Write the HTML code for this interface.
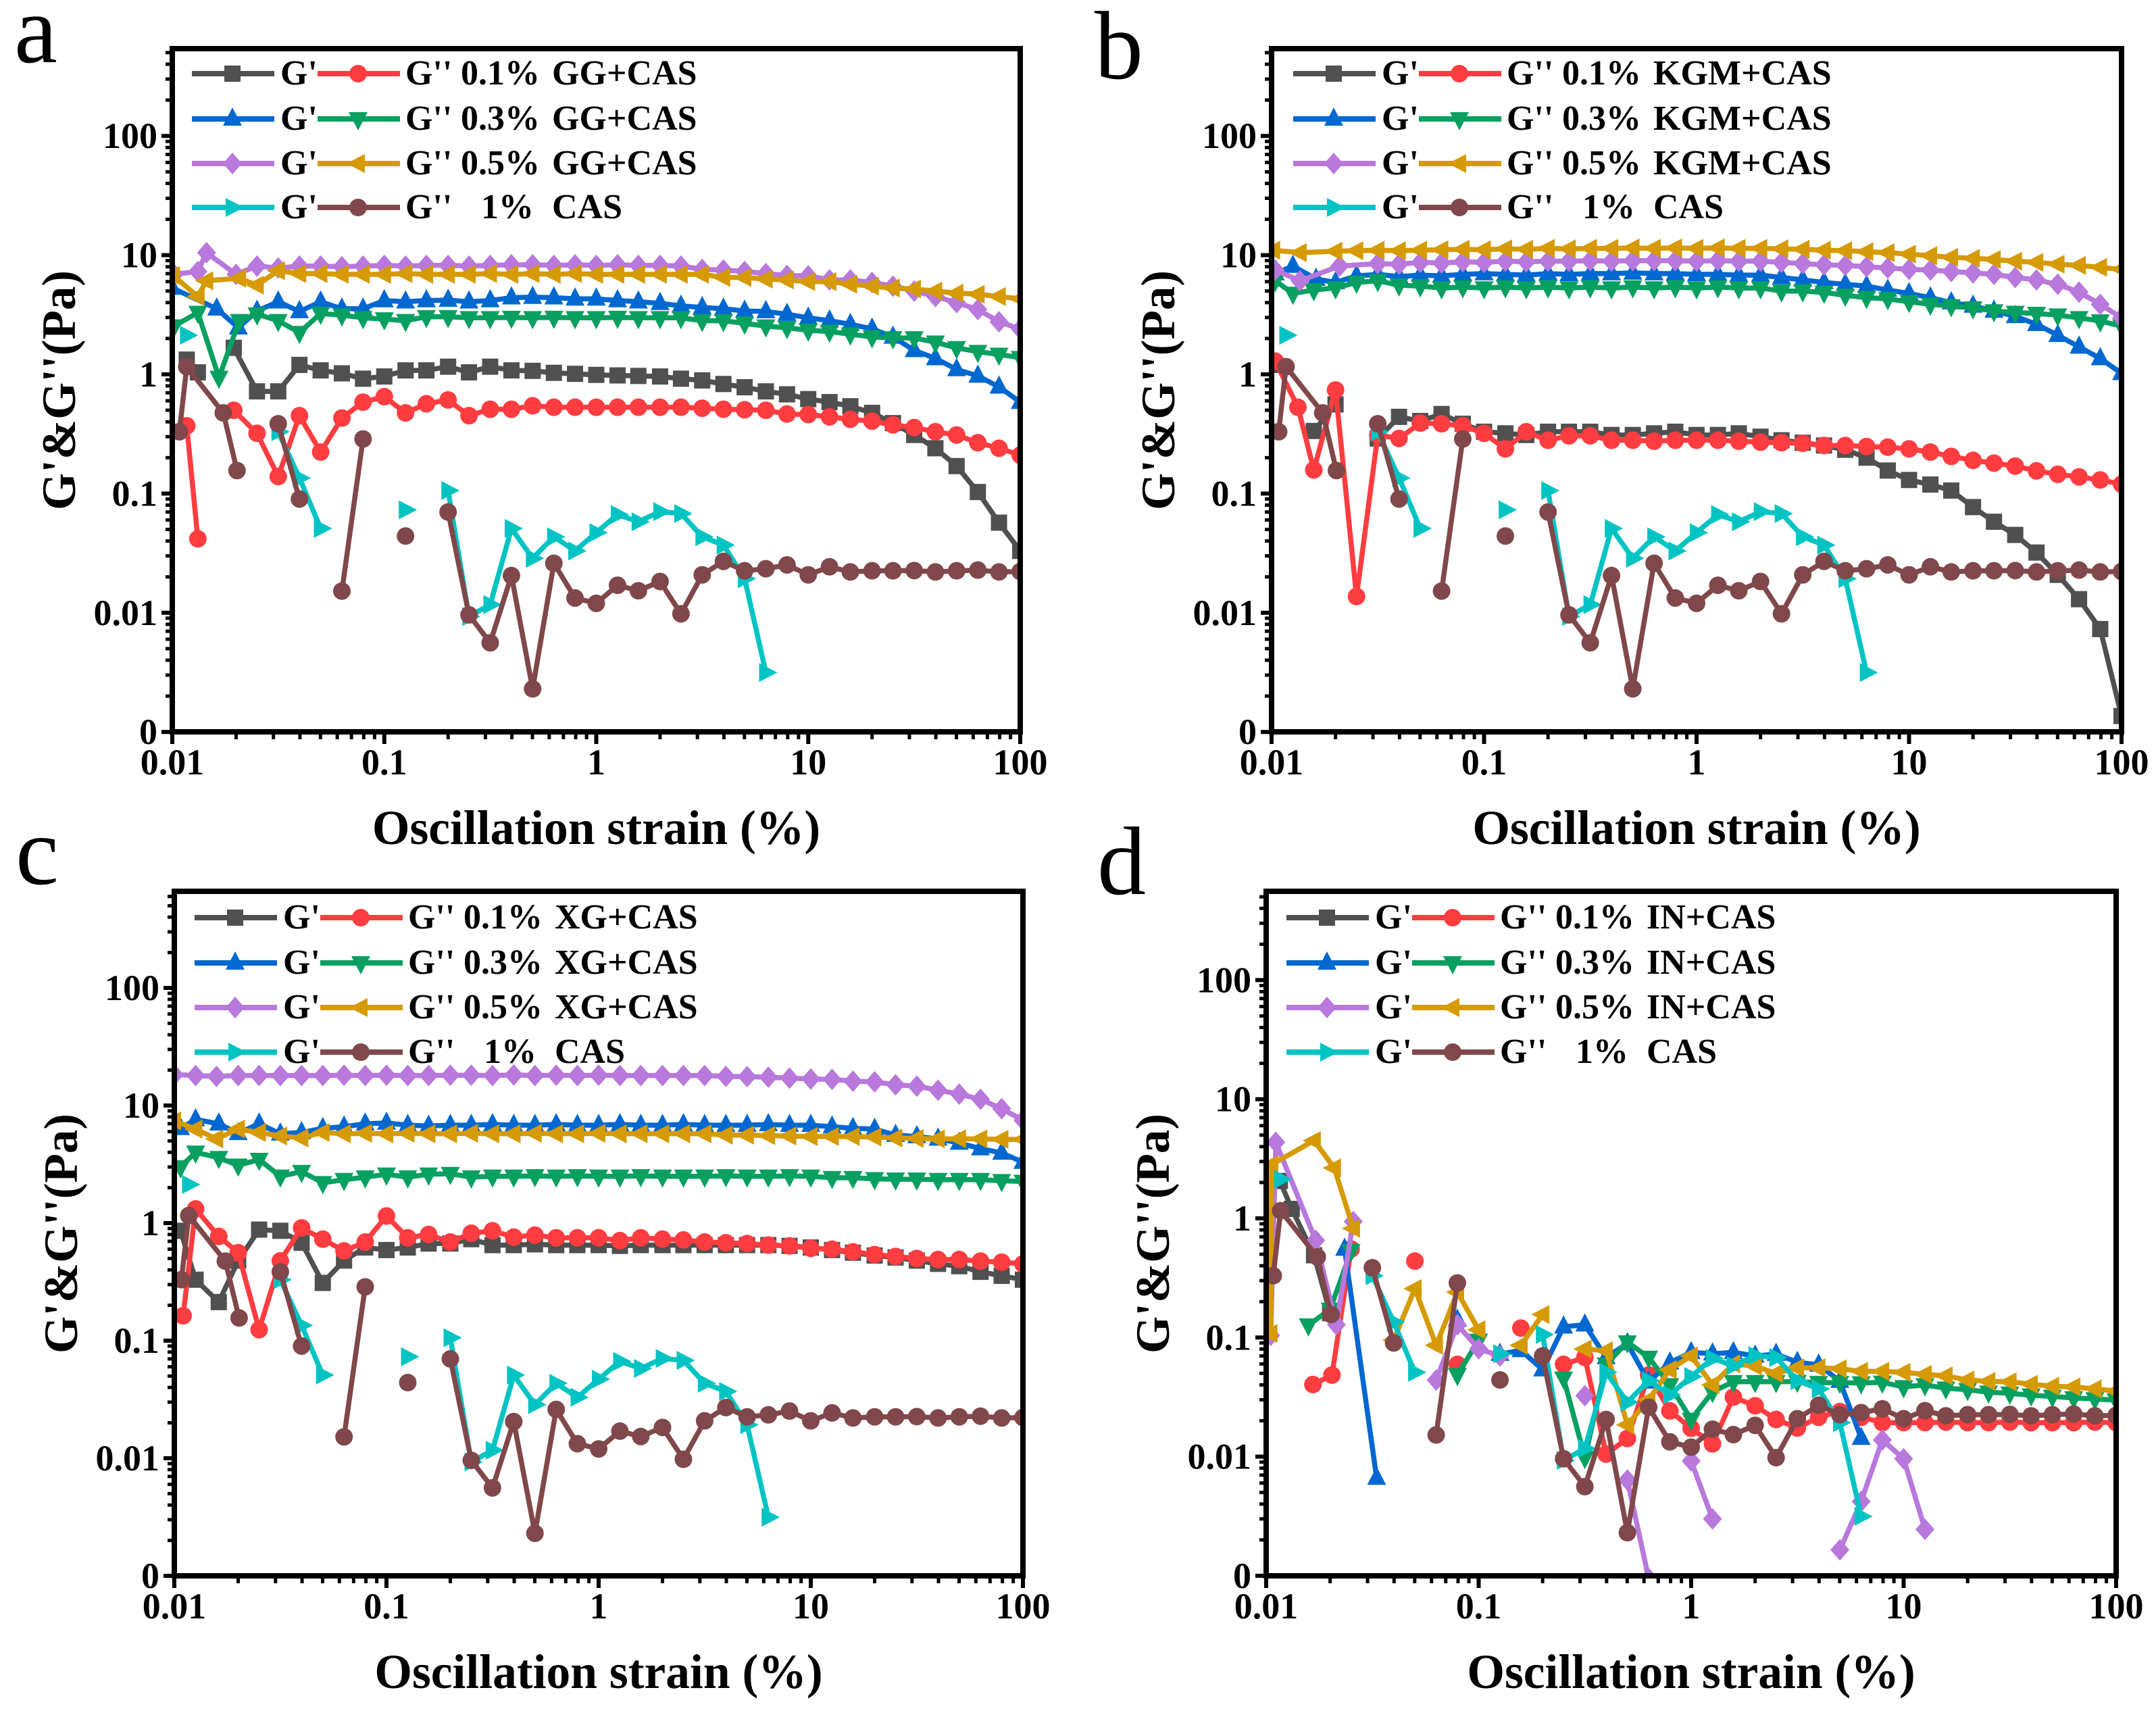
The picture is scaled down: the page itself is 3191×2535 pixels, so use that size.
<!DOCTYPE html>
<html>
<head>
<meta charset="utf-8">
<title>Oscillation strain sweeps</title>
<style>
html,body{margin:0;padding:0;background:#fff}
svg{display:block}
text{font-family:"Liberation Serif",serif}
</style>
</head>
<body>
<svg id="figure" xmlns="http://www.w3.org/2000/svg" width="3191" height="2535" viewBox="0 0 3191 2535"></svg>
<script>
const _ = null;
const strainGrid = [0.01,0.0126,0.0158,0.02,0.0251,0.0316,0.0398,0.0501,0.0631,0.0794,0.1,0.126,0.158,0.2,0.251,0.316,0.398,0.501,0.631,0.794,1,1.26,1.58,2,2.51,3.16,3.98,5.01,6.31,7.94,10,12.6,15.8,20,25.1,31.6,39.8,50.1,63.1,79.4,100];
const xTickValues = [0.01,0.1,1,10,100];
const xTickLabels = ["0.01","0.1","1","10","100"];
const yTickValues = [100,10,1,0.1,0.01,0.001];
const yTickLabels = ["100","10","1","0.1","0.01","0"];

/* 1% CAS is the same in every panel */
const casGpLead = [[0.0117,2.13],null];
const casGp = [_,_,_,_,_,.33,.135,.051,_,_,_,.073,_,.106,.0093,.0117,.051,.0286,.0434,.033,.047,.0667,.058,.0705,.068,.0434,.037,.0193,.00315];
const casGppLead = [[0.0108,.33],[0.0117,1.16],[0.0174,.475],[0.0202,.156],null];
const casGpp = [_,_,_,_,_,.385,.09,_,.0152,.287,_,.044,_,.07,.0096,.0056,.0205,.0023,.026,.0133,.012,.017,.0153,.0183,.0098,.0208,.027,.0225,.0234,.0252,.0208,.0243,.022,.0225,.0225,.0226,.022,.0225,.0228,.022,.0222];

/* Panel a: GG */
const aGp1Lead = [[0.0117,1.33],[0.0132,1.04],null,[0.0195,1.67]];
const aGp1 = [_,_,_,_,.72,.72,1.2,1.08,1.02,.92,.96,1.08,1.08,1.16,1.04,1.16,1.08,1.07,1.03,1.01,.99,.98,.97,.96,.92,.89,.83,.78,.72,.68,.62,.585,.54,.475,.39,.31,.24,.17,.103,.057,.033];
const aGpp1Lead = [[0.0117,.37],[0.0132,.0417],null,[0.0195,.5]];
const aGpp1 = [_,_,_,_,.32,.139,.45,.223,.43,.585,.65,.475,.567,.61,.45,.51,.51,.545,.53,.53,.53,.53,.53,.53,.53,.52,.51,.505,.5,.465,.46,.44,.42,.405,.377,.358,.33,.31,.267,.24,.21];
const aGp3Lead = [[0.01,5.3],[0.0162,3.55],[0.0205,2.46]];
const aGp3 = [_,_,_,_,3.4,4.07,3.37,4.07,3.55,3.55,4.16,4.07,4.16,4.2,4.07,4.16,4.4,4.44,4.4,4.3,4.3,4.16,4.07,3.95,3.75,3.64,3.55,3.4,3.37,3.2,2.98,2.82,2.63,2.41,2.06,1.59,1.36,1.1,.97,.785,.585];
const aGpp3Lead = [[0.0102,2.54],[0.0132,3.3],[0.0166,.94],[0.0207,2.82]];
const aGpp3 = [_,_,_,_,3.2,2.82,2.24,3.24,3.14,2.98,2.91,2.82,3.04,3.04,2.98,2.98,3,2.98,3,2.98,2.98,3,2.98,2.98,2.98,2.82,2.82,2.68,2.54,2.46,2.34,2.29,2.17,2.06,2.02,2.02,1.86,1.67,1.55,1.47,1.38];
const aGp5Lead = [[0.0102,6.9],[0.0132,7.3],[0.0145,10.5],[0.02,6.9]];
const aGp5 = [_,_,_,_,8.1,7.8,8.1,8.1,8,8.1,8.2,8.1,8.2,8.2,8.1,8.2,8.3,8.3,8.2,8.3,8.2,8.3,8.2,8.2,8.1,7.6,7.5,7.3,7,6.75,6.7,6.2,6.2,5.9,5.5,5,4.5,4,3.5,2.76,2.4];
const aGpp5Lead = [[0.0101,6.75],[0.0132,4.5],[0.0145,6.1],[0.0207,6.4]];
const aGpp5 = [_,_,_,_,5.6,7.4,7,7,6.9,6.9,6.9,7,6.9,6.9,6.9,7,6.9,7,6.9,7,6.9,6.9,6.9,6.9,6.9,6.9,6.5,6.5,6.3,6.2,6,6,5.7,5.5,5.3,5.2,5,4.8,4.7,4.5,4.3];

/* Panel b: KGM */
const bGp1Lead = [[0.0104,1.2],null,[0.0158,.335]];
const bGp1 = [_,_,_,.56,_,.29,.44,.406,.465,.385,.33,.32,.31,.33,.33,.33,.31,.31,.32,.33,.31,.31,.32,.3,.28,.267,.253,.233,.2,.156,.13,.119,.106,.077,.058,.045,.032,.0208,.013,.0073,.00136];
const bGpp1Lead = [[0.0104,1.29],[0.0133,.53],[0.0158,.158],[0.02,.74]];
const bGpp1 = [_,_,_,_,.0137,.31,.29,.39,.385,.37,.32,.237,.33,.28,.305,.305,.28,.28,.275,.28,.28,.28,.275,.27,.267,.264,.253,.253,.248,.245,.237,.223,.205,.19,.18,.17,.155,.145,.138,.13,.12];
const bGp3Lead = [[0.0104,7],[0.0126,8.1],[0.0162,6.3],[0.02,5.9]];
const bGp3 = [_,_,_,_,6.7,6.9,6.6,6.8,6.7,6.9,7,6.9,6.8,7,6.9,7,7,7.1,7,7,6.9,6.9,6.8,6.8,6.5,6.2,5.9,5.7,5.5,5.1,4.77,4.4,4,3.75,3.4,3.07,2.63,2.13,1.7,1.36,1.02];
const bGpp3Lead = [[0.0104,6.1],[0.0126,4.77],[0.0158,5.1],[0.02,5.3]];
const bGpp3 = [_,_,_,_,5.9,6.1,5.6,5.5,5.3,5.4,5.3,5.4,5.3,5.4,5.3,5.4,5.3,5.4,5.3,5.4,5.3,5.4,5.3,5.3,5,5,4.87,4.6,4.4,4.3,4.07,3.87,3.75,3.6,3.4,3.3,3.24,3.14,2.98,2.8,2.54];
const bGp5Lead = [[0.0104,7.5],[0.0136,6.1],[0.0209,8.1]];
const bGp5 = [_,_,_,_,_,8.5,8.4,8.7,8.6,8.8,8.7,8.9,8.8,8.9,8.9,9,8.9,9,9,9,8.9,9,8.9,8.9,8.7,8.5,8.3,8.2,8,7.8,7.6,7.5,7.3,7.1,6.9,6.5,6.2,5.7,4.9,3.87,2.98];
const bGpp5Lead = [[0.0102,11],[0.0136,10.5],[0.02,10.8]];
const bGpp5 = [_,_,_,_,10.9,11,10.9,11,11.1,11.2,11.1,11.3,11.2,11.4,11.3,11.4,11.4,11.5,11.4,11.5,11.4,11.5,11.4,11.4,11.3,11.2,11,10.9,10.7,10.5,10.2,9.9,9.6,9.4,9.2,8.9,8.7,8.4,8.2,7.9,7.6];

/* Panel c: XG */
const cGp1Lead = [[0.0107,.86],[0.0126,.33],[0.0162,.213],[0.02,.48]];
const cGp1 = [_,_,_,_,.88,.86,.68,.31,.48,.62,.59,.62,.67,.67,.73,.65,.65,.66,.65,.65,.65,.64,.65,.65,.65,.65,.65,.65,.65,.64,.62,.59,.56,.53,.51,.48,.45,.43,.385,.356,.33];
const cGpp1Lead = [[0.011,.163],[0.0126,1.32],[0.0162,.77],[0.02,.56]];
const cGpp1 = [_,_,_,_,.124,.477,.91,.73,.58,.69,1.15,.75,.8,.69,.82,.86,.76,.79,.75,.75,.75,.71,.75,.73,.72,.69,.68,.67,.65,.64,.61,.6,.57,.54,.52,.5,.49,.49,.475,.465,.45];
const cGp3Lead = [[0.0107,6.4],[0.0126,7.6],[0.0162,7],[0.02,5.8]];
const cGp3 = [_,_,_,_,7,5.75,5.9,6.4,6.6,7,7.1,6.8,6.7,6.8,6.8,6.9,6.8,6.8,6.9,6.8,6.8,6.9,6.8,6.8,6.9,6.8,6.8,6.8,6.9,6.8,6.8,6.6,6.4,6.3,5.6,5.45,5.2,4.8,4.3,3.95,3.3];
const cGpp3Lead = [[0.0107,3],[0.0126,4],[0.0162,3.6],[0.02,3.1]];
const cGpp3 = [_,_,_,_,3.47,2.5,2.74,2.2,2.34,2.46,2.6,2.46,2.6,2.63,2.46,2.5,2.5,2.52,2.5,2.52,2.5,2.5,2.52,2.5,2.5,2.5,2.52,2.5,2.5,2.52,2.5,2.43,2.43,2.38,2.36,2.36,2.34,2.34,2.34,2.29,2.26];
const cGp5 = [18.3,18,17.7,18,18,18,18,18,18.1,18,18.1,18,18,18.1,18.1,18,18.2,18,18.1,18,18.1,18,18,18,18,18,17.7,17.6,17.4,17.1,16.8,16.7,16.1,15.9,15,14.6,13.5,12.5,11.3,9.4,7.5];
const cGpp5 = [7.4,6.3,5.2,6.3,5.9,5.5,5.3,5.9,5.75,5.8,5.75,5.8,5.75,5.75,5.8,5.75,5.75,5.8,5.75,5.75,5.8,5.75,5.75,5.75,5.75,5.75,5.6,5.6,5.55,5.5,5.45,5.45,5.45,5.4,5.3,5.25,5.2,5.2,5.2,5.15,5.15];

/* Panel d: IN */
const dGp1Lead = [[0.0116,2.06],[0.0132,1.2],[0.0168,.49],[0.02,.16],null];
const dGp1 = [];
const dGpp1Lead = [[0.0166,.0403],[0.0204,.0484],[0.0251,.553],null,[0.0501,.438],null,[0.0794,.0595],null,[0.158,.12],null];
const dGpp1 = [_,_,_,_,_,_,_,_,_,_,_,_,_,_,.0595,.068,.0105,.0142,.0484,.0242,.0173,.0128,.0316,.0267,.0205,.0174,.0214,.0239,.0214,.0193,.0193,.0193,.0195,.0193,.0193,.0195,.0193,.0193,.0193,.0195,.0193];
const dGp3Lead = [[0.0234,.553],[0.0331,.0066],null,[0.0794,.14],null];
const dGp3 = [_,_,_,_,_,_,_,_,_,_,_,.0725,.078,.0537,.123,.128,.068,.089,.0425,.0614,.075,.073,.075,.07,.0725,.062,.059,.043,.0143];
const dGpp3Lead = [[0.0158,.127],[0.02,.172],[0.0251,.534],null];
const dGpp3 = [_,_,_,_,_,_,_,_,_,.0487,.0945,_,_,_,.0455,.0098,.0595,.0915,.068,.04,.0205,.035,.0425,.0425,.0425,.0427,.0418,.0418,.0415,.042,.0385,.04,.0375,.0365,.0347,.034,.0328,.032,.0311,.0305,.0298];
const dGp5Lead = [[0.0105,.104],[0.0111,4.35],[0.0171,.654],[0.0214,.128],[0.0257,.94],null];
const dGp5 = [_,_,_,_,_,_,_,_,.0439,.128,.0804,.07,_,_,_,.0325,_,.00636,.00095,_,.0092,.003,_,_,_,_,_,.00165,.0042,.0138,.0096,.00245];
const dGpp5Lead = [[0.0105,.108],[0.0106,2.83],[0.0168,4.5],[0.0209,2.65],[0.0257,.824],null];
const dGpp5 = [_,_,_,_,_,_,.095,.257,.086,.24,.116,_,.086,.156,_,.08,.0775,.0185,.03,.0537,.07,.04,.06,.0575,.05,.0557,.0557,.0546,.052,.052,.051,.049,.0476,.044,.0428,.0425,.0405,.039,.0385,.037,.0355];

const colors = ["#505050","#ff3c40","#0068d0","#08a060","#b878dc","#d69a05","#00c4c4","#80484a"];
const shapes = ["square","circle","up","down","diamond","left","right","circle"];
const seriesNames = ["gp-0-1","gpp-0-1","gp-0-3","gpp-0-3","gp-0-5","gpp-0-5","gp-cas","gpp-cas"];

const panels = [
 {id:"a",L:255,R:1510,T:72,B:1083,y1:554,dec:176.4,lx:284,rows:[109,176,242,307],letter:[21,92],name:"GG+CAS",
  data:[[aGp1Lead,aGp1],[aGpp1Lead,aGpp1],[aGp3Lead,aGp3],[aGpp3Lead,aGpp3],[aGp5Lead,aGp5],[aGpp5Lead,aGpp5],[casGpLead,casGp],[casGppLead,casGpp]]},
 {id:"b",L:1882,R:3140,T:72,B:1083,y1:554,dec:176.4,lx:1914,rows:[109,176,242,307],letter:[1620,116],name:"KGM+CAS",
  data:[[bGp1Lead,bGp1],[bGpp1Lead,bGpp1],[bGp3Lead,bGp3],[bGpp3Lead,bGpp3],[bGp5Lead,bGp5],[bGpp5Lead,bGpp5],[casGpLead,casGp],[casGppLead,casGpp]]},
 {id:"c",L:258,R:1514,T:1319,B:2332,y1:1810,dec:174,lx:288,rows:[1358,1425,1491,1557],letter:[23,1308],name:"XG+CAS",
  data:[[cGp1Lead,cGp1],[cGpp1Lead,cGpp1],[cGp3Lead,cGp3],[cGpp3Lead,cGpp3],[[],cGp5],[[],cGpp5],[casGpLead,casGp],[casGppLead,casGpp]]},
 {id:"d",L:1874,R:3132,T:1319,B:2332,y1:1803,dec:176.3,lx:1904,rows:[1358,1425,1491,1557],letter:[1624,1323],name:"IN+CAS",
  data:[[dGp1Lead,dGp1],[dGpp1Lead,dGpp1],[dGp3Lead,dGp3],[dGpp3Lead,dGpp3],[dGp5Lead,dGp5],[dGpp5Lead,dGpp5],[casGpLead,casGp],[casGppLead,casGpp]]}
];

const NS = "http://www.w3.org/2000/svg";
const root = document.getElementById("figure");
function mk(tag, attrs, parent){
  const el = document.createElementNS(NS, tag);
  for(const k in attrs) el.setAttribute(k, attrs[k]);
  parent.appendChild(el);
  return el;
}
function xScale(p, s){ return p.L + (Math.log10(s) + 2) * (p.R - p.L) / 4; }
function yScale(p, v){ return p.y1 - Math.log10(v) * p.dec; }

function marker(shape, cx, cy, color, parent){
  let el;
  if(shape === "square"){
    el = mk("rect",{x:cx-12,y:cy-12,width:24,height:24,fill:color},parent);
  } else if(shape === "circle"){
    el = mk("circle",{cx:cx,cy:cy,r:13,fill:color},parent);
  } else {
    const geom = {
      up:[[0,-17],[14,10],[-14,10]],
      down:[[0,17],[14,-10],[-14,-10]],
      left:[[-17,0],[10,-14],[10,14]],
      right:[[17,0],[-10,-14],[-10,14]],
      diamond:[[0,-16],[14,0],[0,16],[-14,0]]
    }[shape];
    el = mk("polygon",{points:geom.map(g=>(cx+g[0])+","+(cy+g[1])).join(" "),fill:color},parent);
  }
  return el;
}

function seriesPoints(lead, vals){
  const pts = lead.map(q=>q ? {s:q[0],v:q[1]} : null);
  let started = false;
  vals.forEach((v,i)=>{
    if(v === null){ if(started) pts.push(null); return; }
    started = true;
    pts.push({s:strainGrid[i],v:v});
  });
  return pts;
}

function drawPanel(p){
  const g = mk("g",{},root);
  
  

  const letter = mk("text",{x:p.letter[0],y:p.letter[1],"font-size":144,fill:"#000"},g);
  letter.textContent = p.id;
  
  

  const clipId = "clip-" + p.id;
  const defs = mk("defs",{},g);
  const cp = mk("clipPath",{id:clipId},defs);
  mk("rect",{x:p.L,y:p.T,width:p.R-p.L,height:p.B-p.T},cp);

  const plot = mk("g",{"clip-path":"url(#"+clipId+")"},g);
  
  

  p.data.forEach((d,idx)=>{
    const sg = mk("g",{},plot);
    
    
    const pts = seriesPoints(d[0], d[1]);
    let path = "", pen = false;
    pts.forEach(q=>{
      if(!q){ pen = false; return; }
      path += (pen ? "L" : "M") + xScale(p,q.s).toFixed(1) + " " + yScale(p,q.v).toFixed(1);
      pen = true;
    });
    const line = mk("path",{d:path,fill:"none",stroke:colors[idx],"stroke-width":7.5,"stroke-linejoin":"miter"},sg);
    
    
    pts.forEach(q=>{
      if(!q) return;
      const m = marker(shapes[idx], xScale(p,q.s), yScale(p,q.v), colors[idx], sg);
      
      
    });
  });

  const frame = mk("rect",{x:p.L,y:p.T,width:p.R-p.L,height:p.B-p.T,fill:"none",stroke:"#000","stroke-width":8},g);
  
  

  /* x ticks */
  const xAxis = mk("g",{},g);
  
  
  xTickValues.forEach((v,i)=>{
    const x = xScale(p,v);
    mk("line",{x1:x,x2:x,y1:p.B,y2:p.B+18,stroke:"#000","stroke-width":6},xAxis);
    const t = mk("text",{x:x,y:p.B+63,"font-size":54,"font-weight":"bold","text-anchor":"middle",fill:"#000"},xAxis);
    t.textContent = xTickLabels[i];
    
    
    if(i < xTickValues.length-1){
      for(let m=2;m<10;m++){
        const mx = xScale(p,v*m);
        mk("line",{x1:mx,x2:mx,y1:p.B,y2:p.B+11,stroke:"#000","stroke-width":5},xAxis);
      }
    }
  });

  /* y ticks */
  const yAxis = mk("g",{},g);
  
  
  yTickValues.forEach((v,i)=>{
    const y = yScale(p,v);
    mk("line",{x1:p.L-16,x2:p.L,y1:y,y2:y,stroke:"#000","stroke-width":6},yAxis);
    const t = mk("text",{x:p.L-22,y:y+18,"font-size":54,"font-weight":"bold","text-anchor":"end",fill:"#000"},yAxis);
    t.textContent = yTickLabels[i];
    
    
    for(let m=2;m<10;m++){
      const my = yScale(p,v*m);
      if(my > p.T) mk("line",{x1:p.L-10,x2:p.L,y1:my,y2:my,stroke:"#000","stroke-width":5},yAxis);
    }
  });

  const xt = mk("text",{x:(p.L+p.R)/2,y:p.B+166,"font-size":71.5,"font-weight":"bold","text-anchor":"middle",fill:"#000"},g);
  xt.textContent = "Oscillation strain (%)";
  
  

  const bx = p.L-144, cy = (p.T+p.B)/2;
  const yt = mk("text",{x:bx,y:cy,"font-size":71,"font-weight":"bold","text-anchor":"middle",fill:"#000",transform:"rotate(-90 "+bx+" "+cy+")"},g);
  yt.textContent = "G'&G''(Pa)";
  
  

  /* legend */
  const lg = mk("g",{},g);
  
  
  const pct = ["0.1%","0.3%","0.5%","1%"];
  p.rows.forEach((ry,r)=>{
    const row = mk("g",{},lg);
    
    
    const c1 = r*2, c2 = r*2+1;
    mk("line",{x1:p.lx,x2:p.lx+122,y1:ry,y2:ry,stroke:colors[c1],"stroke-width":8},row);
    marker(shapes[c1],p.lx+60,ry,colors[c1],row);
    mk("line",{x1:p.lx+186,x2:p.lx+308,y1:ry,y2:ry,stroke:colors[c2],"stroke-width":8},row);
    marker(shapes[c2],p.lx+246,ry,colors[c2],row);
    const by = ry+16;
    const labels = [[p.lx+131,"G'"],[p.lx+316,"G''"],[p.lx+(r===3?428:398),pct[r]],[p.lx+533,r===3?"CAS":p.name]];
    labels.forEach(a=>{
      const t = mk("text",{x:a[0],y:by,"font-size":52,"font-weight":"bold",fill:"#000"},row);
      t.textContent = a[1];
      
      
    });
  });
}
panels.forEach(drawPanel);
</script>
</body>
</html>
